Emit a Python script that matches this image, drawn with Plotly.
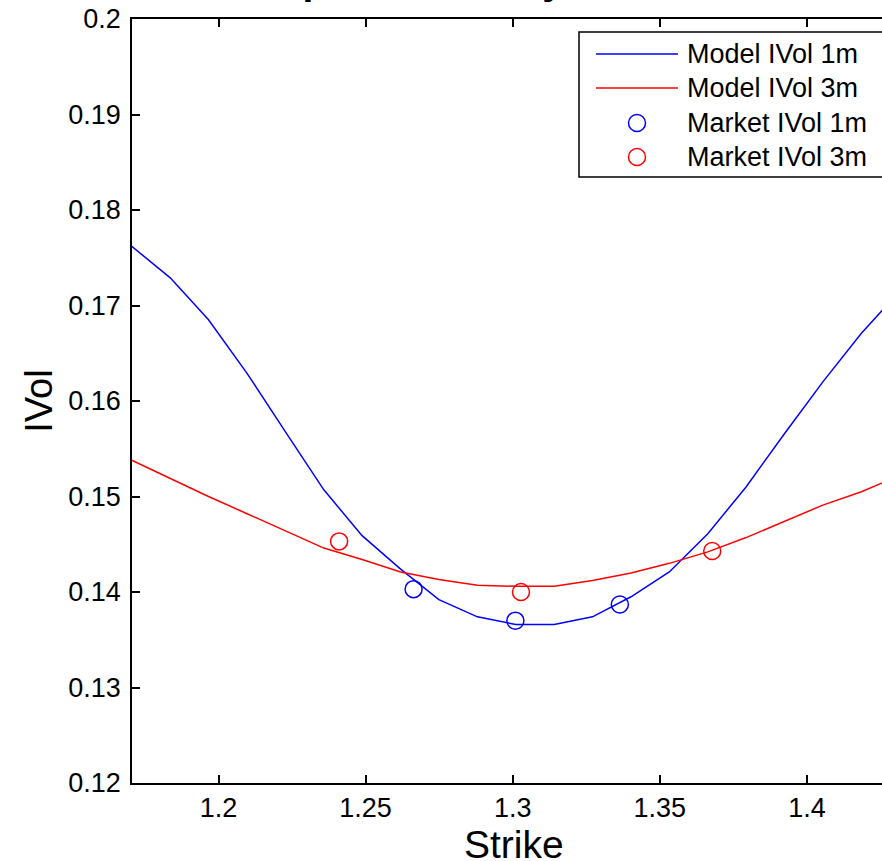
import plotly.graph_objects as go

# ---- data ----
strike = [1.1705, 1.1836, 1.1966, 1.2097, 1.2227, 1.2358, 1.2488, 1.2619, 1.2749, 1.2880,
          1.3010, 1.3141, 1.3271, 1.3402, 1.3532, 1.3663, 1.3793, 1.3924, 1.4054, 1.4185, 1.4315]
model_1m = [0.1762, 0.1729, 0.1685, 0.1629, 0.1568, 0.1507, 0.1459, 0.1424, 0.1392, 0.1374,
            0.1366, 0.1366, 0.1374, 0.1395, 0.1421, 0.1461, 0.1510, 0.1566, 0.1620, 0.1671, 0.1715]
model_3m = [0.1538, 0.1519, 0.1500, 0.1482, 0.1464, 0.1446, 0.1434, 0.1421, 0.1413, 0.1407,
            0.1406, 0.1406, 0.1412, 0.1420, 0.1430, 0.1442, 0.1457, 0.1474, 0.1491, 0.1505, 0.1522]
mkt_1m_strike = [1.2663, 1.3009, 1.3364]
mkt_1m_vol = [0.1403, 0.1370, 0.1387]
mkt_3m_strike = [1.2410, 1.3028, 1.3678]
mkt_3m_vol = [0.1453, 0.1400, 0.1443]

x_ticks = [1.2, 1.25, 1.3, 1.35, 1.4]
x_labels = ["1.2", "1.25", "1.3", "1.35", "1.4"]
y_ticks = [0.12, 0.13, 0.14, 0.15, 0.16, 0.17, 0.18, 0.19, 0.2]
y_labels = ["0.12", "0.13", "0.14", "0.15", "0.16", "0.17", "0.18", "0.19", "0.2"]

legend_names = ["Model IVol 1m", "Model IVol 3m", "Market IVol 1m", "Market IVol 3m"]
legend_colors = ["#0000ff", "#ff0000", "#0000ff", "#ff0000"]
legend_kinds = ["line", "line", "marker", "marker"]

FONT = "Liberation Sans, Arial, Helvetica, sans-serif"

# plot-area geometry in pixels (used to place the hand-drawn legend box)
W, H = 882, 861
ML, MR, MT, MB = 132, 0, 19, 78
PW, PH = W - ML - MR, H - MT - MB


def px(xp):
    return (xp - ML) / PW


def py(yp):
    return (H - MB - yp) / PH


fig = go.Figure()
fig.add_trace(go.Scatter(x=strike, y=model_1m, mode="lines", name=legend_names[0],
                         line=dict(color=legend_colors[0], width=1.5), showlegend=False))
fig.add_trace(go.Scatter(x=strike, y=model_3m, mode="lines", name=legend_names[1],
                         line=dict(color=legend_colors[1], width=1.5), showlegend=False))
fig.add_trace(go.Scatter(x=mkt_1m_strike, y=mkt_1m_vol, mode="markers", name=legend_names[2],
                         marker=dict(symbol="circle-open", size=17, color=legend_colors[2],
                                     line=dict(width=1.5, color=legend_colors[2])),
                         showlegend=False))
fig.add_trace(go.Scatter(x=mkt_3m_strike, y=mkt_3m_vol, mode="markers", name=legend_names[3],
                         marker=dict(symbol="circle-open", size=17, color=legend_colors[3],
                                     line=dict(width=1.5, color=legend_colors[3])),
                         showlegend=False))

# legend (drawn as shapes + annotations to match the MATLAB-style box)
shapes = [dict(type="rect", xref="paper", yref="paper",
               x0=px(579), x1=px(905), y0=py(177), y1=py(32),
               line=dict(color="black", width=1.5), fillcolor="white", layer="above")]
annotations = []
row_y = [54, 88, 123, 157]
for name, col, kind, ry in zip(legend_names, legend_colors, legend_kinds, row_y):
    if kind == "line":
        shapes.append(dict(type="line", xref="paper", yref="paper",
                           x0=px(596), x1=px(678), y0=py(ry), y1=py(ry),
                           line=dict(color=col, width=1.5), layer="above"))
    else:
        shapes.append(dict(type="circle", xref="paper", yref="paper",
                           xsizemode="pixel", ysizemode="pixel",
                           xanchor=px(637), yanchor=py(ry),
                           x0=-8.5, x1=8.5, y0=-8.5, y1=8.5,
                           line=dict(color=col, width=1.5), layer="above"))
    annotations.append(dict(text=name, xref="paper", yref="paper", x=px(685), y=py(ry),
                            xanchor="left", yanchor="middle", showarrow=False,
                            font=dict(size=27, family=FONT, color="black")))

# title (only its lower edge is visible, as in the reference)
annotations.append(dict(text="<b>Implied Volatility</b>", xref="paper", yref="paper",
                        x=px(410), y=1, xanchor="center", yanchor="bottom", yshift=15,
                        showarrow=False, font=dict(size=39, family=FONT, color="black")))
# x-axis label
annotations.append(dict(text="Strike", xref="paper", yref="paper",
                        x=px(514), y=py(844), xanchor="center", yanchor="middle",
                        showarrow=False, font=dict(size=39, family=FONT, color="black")))

fig.update_layout(
    width=W, height=H,
    margin=dict(l=ML, r=MR, t=MT, b=MB, autoexpand=False),
    paper_bgcolor="white", plot_bgcolor="white",
    font=dict(family=FONT, size=27, color="black"),
    showlegend=False,
    shapes=shapes,
    annotations=annotations,
)
fig.update_xaxes(range=[1.1706, 1.4255], tickvals=x_ticks, ticktext=x_labels,
                 ticks="inside", ticklen=8, tickwidth=1.5, tickcolor="black",
                 showline=True, linecolor="black", linewidth=1.5, mirror="ticks",
                 showgrid=False, zeroline=False,
                 tickfont=dict(size=27))
fig.update_yaxes(range=[0.12, 0.2], tickvals=y_ticks, ticktext=y_labels,
                 ticks="inside", ticklen=8, tickwidth=1.5, tickcolor="black",
                 showline=True, linecolor="black", linewidth=1.5, mirror=False,
                 showgrid=False, zeroline=False, ticklabelstandoff=4,
                 title=dict(text="IVol", font=dict(size=38), standoff=4),
                 tickfont=dict(size=27))

fig.write_html("out.html",
               config={"displayModeBar": False},
               post_script="document.body.style.margin='0';"
                           "document.body.style.overflow='hidden';"
                           "document.documentElement.style.overflow='hidden';")
